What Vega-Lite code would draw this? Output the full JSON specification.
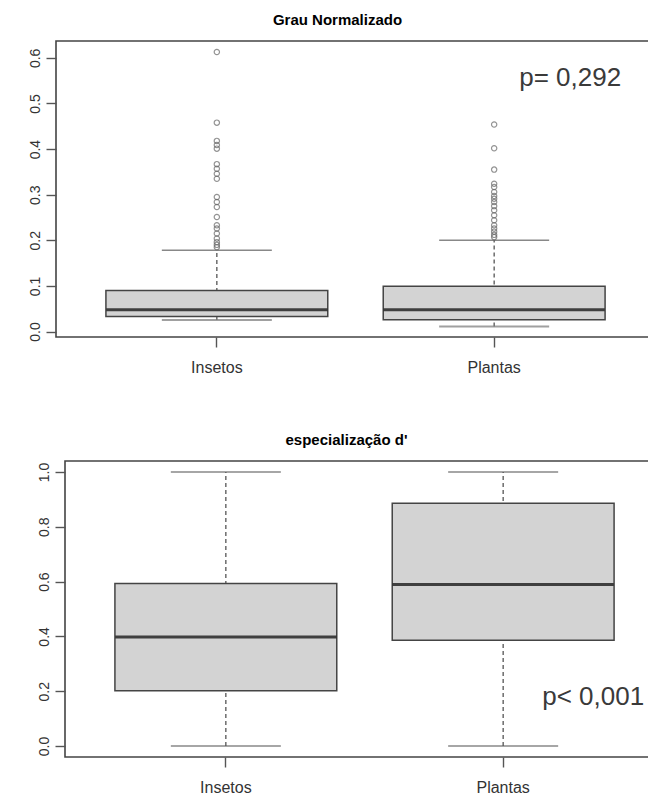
{
  "$schema": "https://vega.github.io/schema/vega-lite/v6.json",
  "background": "white",
  "padding": {"left": 27, "top": 12, "right": 0, "bottom": 0},
  "config": {
    "font": "Liberation Sans",
    "view": {"stroke": "#444444", "strokeWidth": 1.6},
    "axis": {"grid": false, "domain": false, "tickColor": "#555555", "tickWidth": 1.4, "tickSize": 10, "labelColor": "#333333", "labelFont": "Liberation Sans", "title": null},
    "title": {"font": "Liberation Sans", "fontSize": 15, "fontWeight": "bold", "color": "#000000", "offset": 13, "anchor": "middle"}
  },
  "datasets": {
    "grau_box": [
      {"grupo": "Insetos", "lower": 0.025, "q1": 0.033, "median": 0.048, "q3": 0.090, "upper": 0.178},
      {"grupo": "Plantas", "lower": 0.011, "q1": 0.026, "median": 0.048, "q3": 0.099, "upper": 0.200}
    ],
    "grau_out": [
      {"grupo": "Insetos", "valor": 0.613},
      {"grupo": "Insetos", "valor": 0.458},
      {"grupo": "Insetos", "valor": 0.418},
      {"grupo": "Insetos", "valor": 0.409},
      {"grupo": "Insetos", "valor": 0.401},
      {"grupo": "Insetos", "valor": 0.367},
      {"grupo": "Insetos", "valor": 0.357},
      {"grupo": "Insetos", "valor": 0.346},
      {"grupo": "Insetos", "valor": 0.335},
      {"grupo": "Insetos", "valor": 0.295},
      {"grupo": "Insetos", "valor": 0.284},
      {"grupo": "Insetos", "valor": 0.273},
      {"grupo": "Insetos", "valor": 0.251},
      {"grupo": "Insetos", "valor": 0.233},
      {"grupo": "Insetos", "valor": 0.226},
      {"grupo": "Insetos", "valor": 0.215},
      {"grupo": "Insetos", "valor": 0.204},
      {"grupo": "Insetos", "valor": 0.196},
      {"grupo": "Insetos", "valor": 0.190},
      {"grupo": "Insetos", "valor": 0.185},
      {"grupo": "Plantas", "valor": 0.454},
      {"grupo": "Plantas", "valor": 0.402},
      {"grupo": "Plantas", "valor": 0.355},
      {"grupo": "Plantas", "valor": 0.324},
      {"grupo": "Plantas", "valor": 0.317},
      {"grupo": "Plantas", "valor": 0.306},
      {"grupo": "Plantas", "valor": 0.297},
      {"grupo": "Plantas", "valor": 0.291},
      {"grupo": "Plantas", "valor": 0.284},
      {"grupo": "Plantas", "valor": 0.275},
      {"grupo": "Plantas", "valor": 0.266},
      {"grupo": "Plantas", "valor": 0.255},
      {"grupo": "Plantas", "valor": 0.244},
      {"grupo": "Plantas", "valor": 0.233},
      {"grupo": "Plantas", "valor": 0.226},
      {"grupo": "Plantas", "valor": 0.219},
      {"grupo": "Plantas", "valor": 0.212},
      {"grupo": "Plantas", "valor": 0.207}
    ],
    "grau_p": [{"grupo": "Plantas", "valor": 0.556, "texto": "p= 0,292"}],
    "esp_box": [
      {"grupo": "Insetos", "lower": 0.0, "q1": 0.202, "median": 0.398, "q3": 0.593, "upper": 1.0},
      {"grupo": "Plantas", "lower": 0.0, "q1": 0.386, "median": 0.589, "q3": 0.886, "upper": 1.0}
    ],
    "esp_p": [{"grupo": "Plantas", "valor": 0.179, "texto": "p< 0,001"}]
  },
  "vconcat": [
    {
      "title": {"text": "Grau Normalizado", "dx": -18},
      "width": 599,
      "height": 296,
      "encoding": {
        "x": {"field": "grupo", "type": "nominal", "scale": {"domain": ["Insetos", "Plantas"], "paddingInner": 0, "paddingOuter": 0.08},
              "axis": {"labelAngle": 0, "labelFontSize": 16, "labelPadding": 12, "bandPosition": 0.5}}
      },
      "layer": [
        {
          "data": {"name": "grau_box"},
          "mark": {"type": "rule", "strokeDash": [4, 3], "color": "#555555", "strokeWidth": 1.3},
          "encoding": {
            "y": {"field": "lower", "type": "quantitative", "scale": {"domain": [-0.012, 0.637], "nice": false, "zero": false},
                  "axis": {"values": [0, 0.1, 0.2, 0.3, 0.4, 0.5, 0.6], "format": ".1f", "labelAngle": 270, "labelFontSize": 14, "labelPadding": 4}},
            "y2": {"field": "upper"}
          }
        },
        {
          "data": {"name": "grau_box"},
          "mark": {"type": "bar", "fill": "#d3d3d3", "stroke": "#444444", "strokeWidth": 1.5, "width": {"band": 0.8}},
          "encoding": {"y": {"field": "q1", "type": "quantitative"}, "y2": {"field": "q3"}}
        },
        {
          "data": {"name": "grau_box"},
          "mark": {"type": "tick", "orient": "horizontal", "color": "#000000", "thickness": 3, "size": 221},
          "encoding": {"y": {"field": "median", "type": "quantitative"}}
        },
        {
          "data": {"name": "grau_box"},
          "mark": {"type": "tick", "orient": "horizontal", "color": "#555555", "thickness": 1.5, "size": 110},
          "encoding": {"y": {"field": "upper", "type": "quantitative"}}
        },
        {
          "data": {"name": "grau_box"},
          "mark": {"type": "tick", "orient": "horizontal", "color": "#777777", "thickness": 2, "size": 110},
          "encoding": {"y": {"field": "lower", "type": "quantitative"}}
        },
        {
          "data": {"name": "grau_out"},
          "mark": {"type": "point", "shape": "circle", "filled": false, "stroke": "#666666", "strokeWidth": 1.2, "size": 28},
          "encoding": {"y": {"field": "valor", "type": "quantitative"}}
        },
        {
          "data": {"name": "grau_p"},
          "mark": {"type": "text", "fontSize": 26, "color": "#3a3a3a", "align": "center", "baseline": "middle", "dx": 76},
          "encoding": {"y": {"field": "valor", "type": "quantitative"}, "text": {"field": "texto"}}
        }
      ]
    },
    {
      "spacing": -24,
      "hconcat": [
        {
          "width": 1,
          "height": 1,
          "view": {"stroke": null},
          "data": {"values": [{"v": 1}]},
          "mark": {"type": "point", "opacity": 0}
        },
        {
          "title": {"text": "especialização d'", "dx": -18},
          "width": 599,
          "height": 296,
          "encoding": {
            "x": {"field": "grupo", "type": "nominal", "scale": {"domain": ["Insetos", "Plantas"], "paddingInner": 0, "paddingOuter": 0.08},
                  "axis": {"labelAngle": 0, "labelFontSize": 16, "labelPadding": 12, "bandPosition": 0.5}}
          },
          "layer": [
            {
              "data": {"name": "esp_box"},
              "mark": {"type": "rule", "strokeDash": [4, 3], "color": "#555555", "strokeWidth": 1.3},
              "encoding": {
                "y": {"field": "lower", "type": "quantitative", "scale": {"domain": [-0.04, 1.04], "nice": false, "zero": false},
                      "axis": {"values": [0, 0.2, 0.4, 0.6, 0.8, 1.0], "format": ".1f", "labelAngle": 270, "labelFontSize": 14, "labelPadding": 4}},
                "y2": {"field": "upper"}
              }
            },
            {
              "data": {"name": "esp_box"},
              "mark": {"type": "bar", "fill": "#d3d3d3", "stroke": "#444444", "strokeWidth": 1.5, "width": {"band": 0.8}},
              "encoding": {"y": {"field": "q1", "type": "quantitative"}, "y2": {"field": "q3"}}
            },
            {
              "data": {"name": "esp_box"},
              "mark": {"type": "tick", "orient": "horizontal", "color": "#000000", "thickness": 3, "size": 221},
              "encoding": {"y": {"field": "median", "type": "quantitative"}}
            },
            {
              "data": {"name": "esp_box"},
              "mark": {"type": "tick", "orient": "horizontal", "color": "#555555", "thickness": 1.5, "size": 110},
              "encoding": {"y": {"field": "upper", "type": "quantitative"}}
            },
            {
              "data": {"name": "esp_box"},
              "mark": {"type": "tick", "orient": "horizontal", "color": "#555555", "thickness": 1.5, "size": 110},
              "encoding": {"y": {"field": "lower", "type": "quantitative"}}
            },
            {
              "data": {"name": "esp_p"},
              "mark": {"type": "text", "fontSize": 26, "color": "#3a3a3a", "align": "center", "baseline": "middle", "dx": 90},
              "encoding": {"y": {"field": "valor", "type": "quantitative"}, "text": {"field": "texto"}}
            }
          ]
        }
      ]
    }
  ],
  "spacing": 56
}
